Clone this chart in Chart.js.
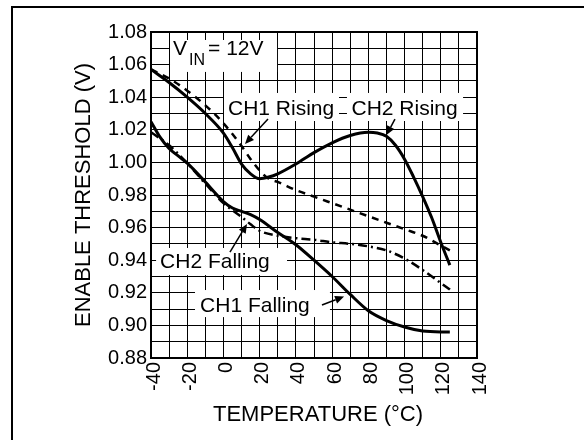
<!DOCTYPE html>
<html>
<head>
<meta charset="utf-8">
<script src="https://cdn.jsdelivr.net/npm/chart.js@4.4.1/dist/chart.umd.min.js"></script>
<style>
  html, body { margin: 0; padding: 0; background: #fff; }
  #wrap { width: 584px; height: 440px; }
</style>
</head>
<body>
<div id="wrap"><canvas id="c" width="584" height="440"></canvas></div>
<script>
// Enable threshold vs temperature, 4 curves

// CH2 Rising (solid)
const ch2RiseTemp = [-40, -30, -20, -10, 0, 5, 10, 15, 20, 25, 30, 40, 50, 60, 70, 80, 85, 90, 95, 100, 105, 110, 115, 120, 125];
const ch2RiseVals = [1.057, 1.049, 1.040, 1.030, 1.018, 1.009, 0.999, 0.993, 0.990, 0.991, 0.993, 0.999, 1.006, 1.012, 1.0165, 1.0185, 1.018, 1.016, 1.0105, 1.002, 0.991, 0.979, 0.966, 0.951, 0.937];

// CH1 Rising (dashed)
const ch1RiseTemp = [-40, -30, -20, -10, 0, 10, 15, 20, 25, 30, 40, 50, 60, 70, 80, 90, 100, 110, 120, 125];
const ch1RiseVals = [1.057, 1.0515, 1.044, 1.035, 1.024, 1.010, 1.002, 0.995, 0.990, 0.988, 0.983, 0.979, 0.975, 0.971, 0.967, 0.963, 0.959, 0.955, 0.949, 0.946];

// CH1 Falling (solid)
const ch1FallTemp = [-40, -35, -30, -25, -20, -10, 0, 5, 10, 15, 20, 30, 40, 50, 60, 70, 80, 90, 100, 110, 120, 125];
const ch1FallVals = [1.025, 1.0155, 1.0085, 1.004, 0.9995, 0.988, 0.976, 0.972, 0.970, 0.968, 0.965, 0.957, 0.9495, 0.940, 0.930, 0.919, 0.909, 0.903, 0.899, 0.8965, 0.896, 0.896];

// CH2 Falling (dash-dot)
const ch2FallTemp = [-40, -30, -20, -10, 0, 10, 15, 20, 30, 40, 50, 60, 70, 80, 90, 100, 110, 120, 125];
const ch2FallVals = [1.0185, 1.0105, 0.9995, 0.987, 0.975, 0.9665, 0.962, 0.958, 0.955, 0.9535, 0.9525, 0.951, 0.950, 0.9485, 0.946, 0.941, 0.934, 0.926, 0.922];

// axes
const xMin = -40, xMax = 140, xStep = 10, xLabelEvery = 20;
const yMin = 0.88, yMax = 1.08, yStep = 0.01;
const xTitle = 'TEMPERATURE (°C)';
const yTitle = 'ENABLE THRESHOLD (V)';

// callouts (data units): text left/baseline, white box, arrow from -> tip
const labelTexts = ['CH1 Rising', 'CH2 Rising', 'CH2 Falling', 'CH1 Falling'];
const labelAt = [[2.5, 1.0291], [70.7, 1.0291], [-35, 0.935], [-12.9, 0.9084]];
const labelBox = [[0.3, 63.8, 1.0426, 1.0254], [68.2, 132.3, 1.0426, 1.0254], [-37.2, 35.1, 0.9475, 0.9309], [-15.7, 58.8, 0.9217, 0.9051]];
const arrowFrom = [[24.6, 1.0266], [94.7, 1.0266], [3.6, 0.945], [54.4, 0.9125]];
const arrowTo = [[11.9, 1.0113], [90.0, 1.0168], [13.0, 0.9622], [66.6, 0.9177]];
const vinBox = [-29.5, 29.6, 1.0751, 1.0555];
const vinAt = [-27.9, 1.0659];
const vinSubAt = [-19.0, 1.0598];
const vinRestAt = [-8.5, 1.0659];

const FONT = '"Liberation Sans", Arial, sans-serif';
const pts = (t, v) => t.map((x, i) => ({ x, y: v[i] }));

function arrow(ctx, x0, y0, x1, y1) {
  const a = Math.atan2(y1 - y0, x1 - x0);
  const L = 9, W = 4;
  const bx = x1 - L * Math.cos(a), by = y1 - L * Math.sin(a);
  ctx.beginPath();
  ctx.moveTo(x0, y0);
  ctx.lineTo(bx, by);
  ctx.lineWidth = 1.5;
  ctx.stroke();
  ctx.beginPath();
  ctx.moveTo(x1, y1);
  ctx.lineTo(bx + W * Math.sin(a), by - W * Math.cos(a));
  ctx.lineTo(bx - W * Math.sin(a), by + W * Math.cos(a));
  ctx.closePath();
  ctx.fill();
}

const callouts = {
  id: 'callouts',
  beforeDatasetsDraw(chart) {
    const { ctx, scales: { x, y } } = chart;
    const px = v => x.getPixelForValue(v), py = v => y.getPixelForValue(v);
    ctx.save();
    ctx.fillStyle = '#fff';
    [vinBox, ...labelBox].forEach(b => {
      ctx.fillRect(px(b[0]), py(b[2]), px(b[1]) - px(b[0]), py(b[3]) - py(b[2]));
    });
    ctx.fillStyle = '#000';
    ctx.textBaseline = 'alphabetic';
    ctx.textAlign = 'left';
    ctx.font = '21px ' + FONT;
    labelTexts.forEach((t, i) => ctx.fillText(t, px(labelAt[i][0]), py(labelAt[i][1])));
    ctx.fillText('V', px(vinAt[0]), py(vinAt[1]));
    ctx.fillText('= 12V', px(vinRestAt[0]), py(vinRestAt[1]));
    ctx.font = '16px ' + FONT;
    ctx.fillText('IN', px(vinSubAt[0]), py(vinSubAt[1]));
    ctx.restore();
  },
  afterDatasetsDraw(chart) {
    const { ctx, scales: { x, y } } = chart;
    const px = v => x.getPixelForValue(v), py = v => y.getPixelForValue(v);
    ctx.save();
    ctx.strokeStyle = '#000';
    ctx.fillStyle = '#000';
    arrowFrom.forEach((f, i) => {
      arrow(ctx, px(f[0]), py(f[1]), px(arrowTo[i][0]), py(arrowTo[i][1]));
    });
    ctx.restore();
  },
  afterDraw(chart) {
    const { ctx, chartArea: ca } = chart;
    ctx.save();
    // outer figure frame (cropped on right/bottom)
    ctx.strokeStyle = '#000';
    ctx.lineWidth = 2;
    ctx.beginPath();
    ctx.moveTo(12, 440);
    ctx.lineTo(12, 7);
    ctx.lineTo(584, 7);
    ctx.stroke();
    // plot frame
    ctx.strokeRect(ca.left, ca.top, ca.right - ca.left, ca.bottom - ca.top);
    // axis titles
    ctx.fillStyle = '#000';
    ctx.font = '22px ' + FONT;
    ctx.textAlign = 'center';
    ctx.textBaseline = 'middle';
    ctx.fillText(xTitle, (ca.left + ca.right) / 2 + 4, 415);
    ctx.translate(84, (ca.top + ca.bottom) / 2);
    ctx.rotate(-Math.PI / 2);
    ctx.fillText(yTitle, 0, 0);
    ctx.restore();
  }
};

const common = { borderColor: '#000', pointRadius: 0, fill: false, cubicInterpolationMode: 'monotone' };

new Chart(document.getElementById('c'), {
  type: 'line',
  data: {
    datasets: [
      { ...common, label: 'CH2 Rising', data: pts(ch2RiseTemp, ch2RiseVals), borderWidth: 3 },
      { ...common, label: 'CH1 Rising', data: pts(ch1RiseTemp, ch1RiseVals), borderWidth: 2.5, borderDash: [7, 6] },
      { ...common, label: 'CH1 Falling', data: pts(ch1FallTemp, ch1FallVals), borderWidth: 3 },
      { ...common, label: 'CH2 Falling', data: pts(ch2FallTemp, ch2FallVals), borderWidth: 2.5, borderDash: [9, 4, 2, 4] }
    ]
  },
  options: {
    responsive: false,
    animation: false,
    events: [],
    layout: { padding: { top: 32, right: 107, left: 0, bottom: 0 } },
    plugins: { legend: { display: false }, tooltip: { enabled: false } },
    scales: {
      x: {
        type: 'linear',
        min: xMin, max: xMax,
        afterFit: s => { s.height = 82; },
        grid: { color: '#000', lineWidth: 1, drawTicks: false },
        border: { display: false },
        ticks: {
          stepSize: xStep,
          autoSkip: false,
          minRotation: 90, maxRotation: 90,
          padding: 4,
          labelOffset: 3,
          color: '#000',
          font: { family: FONT, size: 20 },
          callback: v => (v % xLabelEvery === 0 ? String(v) : '')
        }
      },
      y: {
        type: 'linear',
        min: yMin, max: yMax,
        afterFit: s => { s.width = 151; },
        grid: { color: '#000', lineWidth: 1, drawTicks: false },
        border: { display: false },
        ticks: {
          stepSize: yStep,
          autoSkip: false,
          padding: 4,
          color: '#000',
          font: { family: FONT, size: 20 },
          callback: v => (Math.round(v * 100) % 2 === 0 ? v.toFixed(2) : '')
        }
      }
    }
  },
  plugins: [callouts]
});
</script>
</body>
</html>
